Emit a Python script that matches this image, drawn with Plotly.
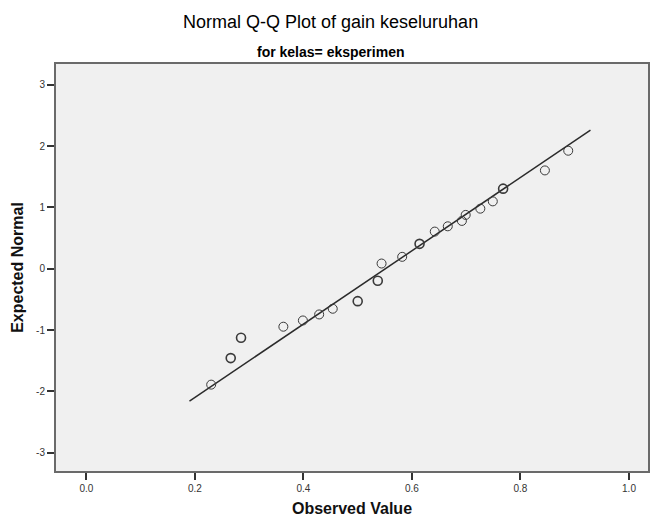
import plotly.graph_objects as go

# Observed values (x) and expected normal quantiles (y)
observed = [0.230, 0.266, 0.285, 0.363, 0.399, 0.429, 0.454, 0.500, 0.537, 0.544,
            0.582, 0.614, 0.642, 0.666, 0.692, 0.699, 0.726, 0.749, 0.768, 0.845, 0.888]
expected = [-1.891, -1.458, -1.125, -0.946, -0.844, -0.746, -0.653, -0.529, -0.197, 0.085,
            0.194, 0.406, 0.606, 0.692, 0.780, 0.878, 0.980, 1.099, 1.306, 1.604, 1.925]
# tied cases drawn on top of each other appear darker
tie_count = [1, 2, 2, 1, 1, 1, 1, 2, 2, 1, 1, 2, 1, 1, 1, 1, 1, 1, 2, 1, 1]

# reference line: expected = (x - mean) / sd
line_mean = 0.551
line_sd = 0.1672
line_x = [0.190, 0.929]
line_y = [(v - line_mean) / line_sd for v in line_x]

x_ticks = [0.0, 0.2, 0.4, 0.6, 0.8, 1.0]
x_tick_text = ["0.0", "0.2", "0.4", "0.6", "0.8", "1.0"]
y_ticks = [-3, -2, -1, 0, 1, 2, 3]
y_tick_text = ["-3", "-2", "-1", "0", "1", "2", "3"]

FONT = "Liberation Sans, Arial, sans-serif"

fig = go.Figure()
fig.add_trace(go.Scatter(
    x=line_x, y=line_y, mode="lines",
    line=dict(color="#2b2b2b", width=1.5), hoverinfo="skip", showlegend=False))
fig.add_trace(go.Scatter(
    x=observed, y=expected, mode="markers",
    marker=dict(symbol="circle-open", size=9, color="#3a3a3a",
                line=dict(color="#3a3a3a", width=[1.0 + 0.6 * (c - 1) for c in tie_count])),
    showlegend=False))

fig.update_layout(
    width=650, height=517,
    margin=dict(l=56, r=0, t=64, b=46),
    paper_bgcolor="white", plot_bgcolor="#F0F0F0",
    font=dict(family=FONT, color="#222"),
    annotations=[
        dict(text="Normal Q-Q Plot of gain keseluruhan", xref="paper", yref="paper",
             x=0.463, y=1, yshift=42, showarrow=False, yanchor="middle",
             font=dict(size=18, color="#000", family=FONT)),
        dict(text="<b>for kelas= eksperimen</b>", xref="paper", yref="paper",
             x=0.463, y=1, yshift=12, showarrow=False, yanchor="middle",
             font=dict(size=14, color="#000", family=FONT)),
    ],
    xaxis=dict(range=[-0.056, 1.035], tickvals=x_ticks, ticktext=x_tick_text,
               ticks="outside", ticklen=7, tickwidth=1.5, tickcolor="#333",
               tickfont=dict(size=10, color="#333"),
               showgrid=False, zeroline=False,
               showline=True, linecolor="#6a6a6a", linewidth=2, mirror=True,
               title=dict(text="<b>Observed Value</b>", font=dict(size=16, color="#111"),
                          standoff=12)),
    yaxis=dict(range=[-3.30, 3.34], tickvals=y_ticks, ticktext=y_tick_text,
               ticks="outside", ticklen=7, tickwidth=1.5, tickcolor="#333",
               tickfont=dict(size=10, color="#333"),
               showgrid=False, zeroline=False,
               showline=True, linecolor="#6a6a6a", linewidth=2, mirror=True,
               title=dict(text="<b>Expected Normal</b>", font=dict(size=16, color="#111"),
                          standoff=8)),
)

fig.write_html("out.html")
